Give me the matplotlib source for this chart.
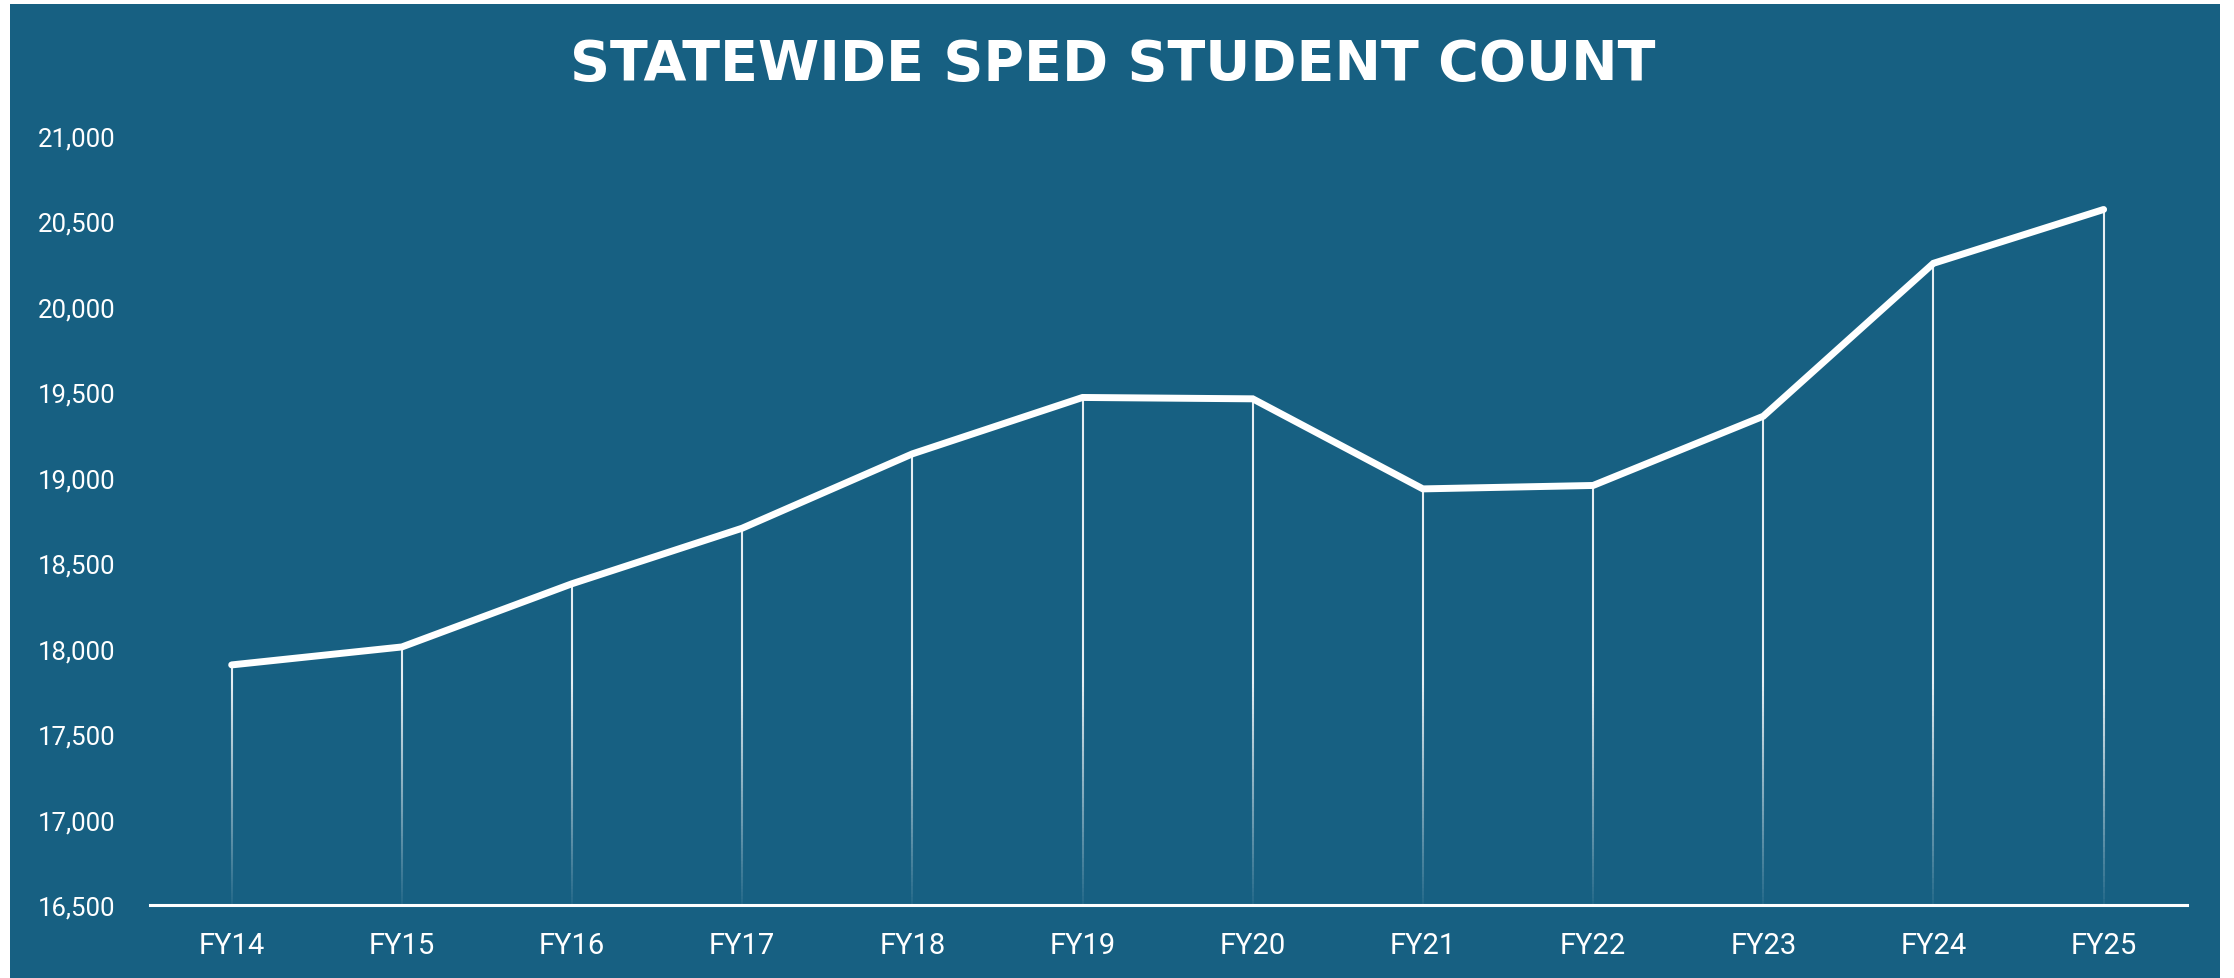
import numpy as np
import matplotlib
matplotlib.use("Agg")
import matplotlib.pyplot as plt
from matplotlib.collections import LineCollection
from matplotlib.patches import Rectangle

# ---- data ----
years = ["FY14", "FY15", "FY16", "FY17", "FY18", "FY19",
         "FY20", "FY21", "FY22", "FY23", "FY24", "FY25"]
counts = [17905, 18010, 18380, 18705, 19140, 19470,
          19462, 18935, 18955, 19360, 20255, 20570]
yticks = [16500, 17000, 17500, 18000, 18500, 19000, 19500, 20000, 20500, 21000]
title = "STATEWIDE SPED STUDENT COUNT"

BG = "#176082"
W, H = 2234, 979
fig = plt.figure(figsize=(W / 100, H / 100), dpi=100, facecolor="white")
bgrect = Rectangle((10 / W, 0), (2220 - 10) / W, (H - 5) / H,
                   transform=fig.transFigure, facecolor=BG,
                   edgecolor="none", zorder=-10)
fig.add_artist(bgrect)

ax = fig.add_axes([150 / W, 1 - 906 / H, (2187 - 150) / W, (906 - 137) / H])
ax.set_zorder(5)
ax.set_facecolor("none")

x = np.arange(len(years))
ymin, ymax = 16500, 21000

# drop lines with fade toward the baseline
segs, cols = [], []
fade_top = 17800
for xi, v in zip(x, counts):
    edges = np.linspace(ymin, v, 120)
    for a, b in zip(edges[:-1], edges[1:]):
        mid = (a + b) / 2
        alpha = 0.9 if mid >= fade_top else 0.05 + 0.85 * (mid - ymin) / (fade_top - ymin)
        segs.append([(xi, a), (xi, b)])
        cols.append((1, 1, 1, alpha))
lc = LineCollection(segs, colors=cols, linewidths=1.5, capstyle="butt", zorder=2)
ax.add_collection(lc)

ax.plot(x, counts, color="white", lw=5.0, solid_capstyle="round",
        solid_joinstyle="miter", zorder=3)

ax.set_xlim(-0.48, 11.49)
ax.set_ylim(ymin, ymax)
ax.set_xticks(x)
ax.set_xticklabels(years)
ax.set_yticks(yticks)
ax.set_yticklabels([f"{t:,}" for t in yticks])
for lab in ax.get_xticklabels():
    lab.set_fontfamily("Roboto")
    lab.set_fontsize(21)
    lab.set_color("white")
for lab in ax.get_yticklabels():
    lab.set_fontfamily("Roboto")
    lab.set_fontsize(18.5)
    lab.set_color("white")
ax.tick_params(axis="x", length=0, pad=19)
ax.tick_params(axis="y", length=0, pad=25)

for s in ["top", "right", "left"]:
    ax.spines[s].set_visible(False)
ax.spines["bottom"].set_color("white")
ax.spines["bottom"].set_linewidth(2.2)

fig.text(1113 / W, 1 - 65 / H, title, ha="center", va="center",
         color="white", fontsize=40, fontweight="bold", family="DejaVu Sans",
         zorder=6)

fig.savefig("out.png", dpi=100, facecolor="white")
